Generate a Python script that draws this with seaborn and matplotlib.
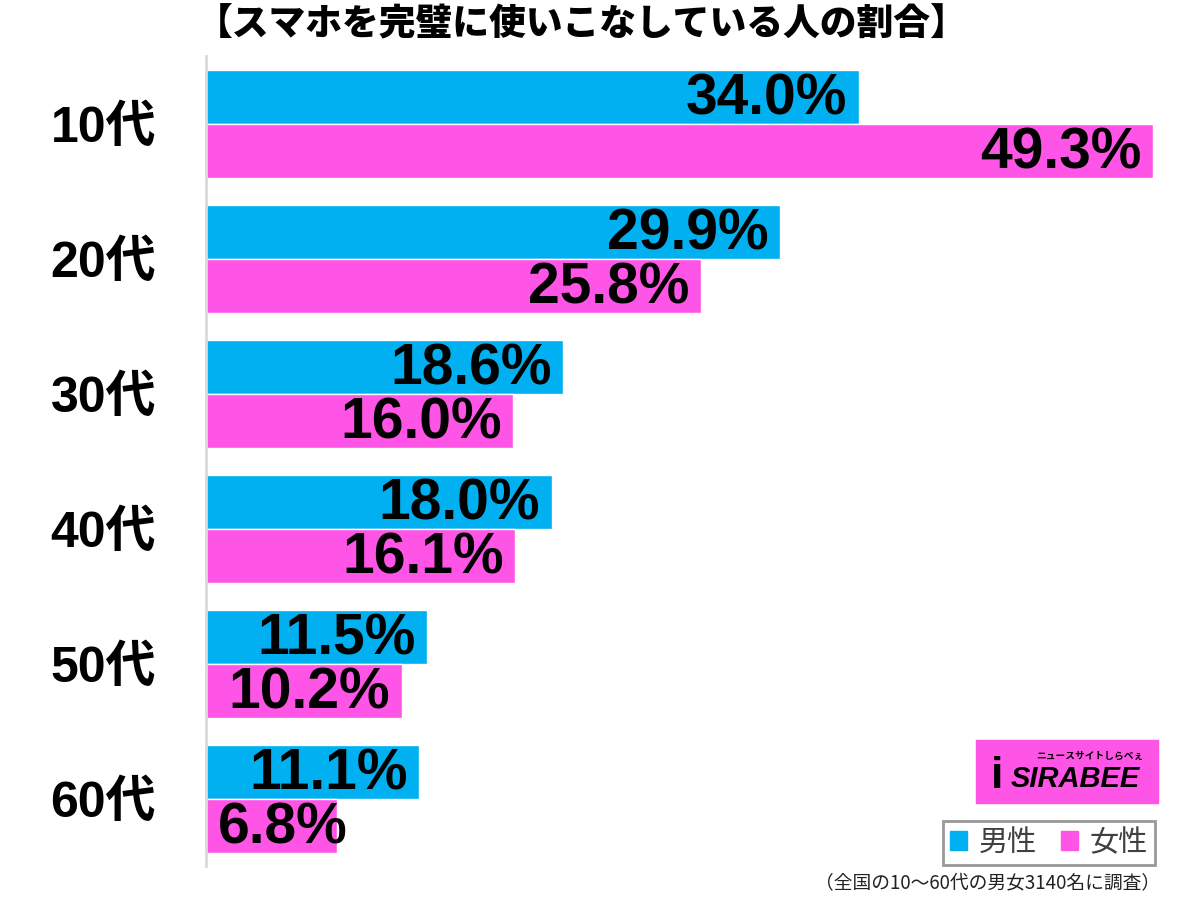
import pandas as pd
import matplotlib.pyplot as plt
import seaborn as sns
from matplotlib.patches import Rectangle

# Data
ages = ['10代', '20代', '30代', '40代', '50代', '60代']
male = [34.0, 29.9, 18.6, 18.0, 11.5, 11.1]
female = [49.3, 25.8, 16.0, 16.1, 10.2, 6.8]
genders = ['男性', '女性']
colors = ['#00B0F0', '#FF55E6']

title = '【スマホを完璧に使いこなしている人の割合】'
note = '（全国の10〜60代の男女3140名に調査）'

df = pd.DataFrame({
    'age': ages * 2,
    'gender': [genders[0]] * len(ages) + [genders[1]] * len(ages),
    'value': male + female,
})

sns.set_style('white')
plt.rcParams['font.family'] = ['Noto Sans CJK JP', 'DejaVu Sans']
num_font = ['Liberation Sans', 'Noto Sans CJK JP']

fig = plt.figure(figsize=(12, 8.97), dpi=100)
ax = fig.add_axes([206 / 1200, 1 - 866.5 / 897, 960 / 1200, 810 / 897])

sns.barplot(data=df, y='age', x='value', hue='gender', order=ages,
            hue_order=genders, palette=colors, width=0.8, saturation=1,
            orient='h', ax=ax, legend=False)

ax.set_xlim(0, 50)
ax.set_ylim(5.5, -0.5)
ax.set_xlabel('')
ax.set_ylabel('')
ax.set_xticks([])
for s in ['top', 'right', 'bottom']:
    ax.spines[s].set_visible(False)
ax.spines['left'].set_color('#d9d9d9')
ax.spines['left'].set_linewidth(2)
ax.tick_params(axis='y', length=0, pad=36)
for lab in ax.get_yticklabels():
    lab.set_fontsize(36)
    lab.set_fontweight('bold')
    lab.set_color('black')
    lab.set_family(num_font)

# value labels
for cont in ax.containers:
    for bar in cont:
        v = bar.get_width()
        yc = bar.get_y() + bar.get_height() / 2 + 0.02
        txt = f'{v:.1f}%'
        if v < 9:
            ax.text(0.6, yc, txt, ha='left', va='center', fontsize=41,
                    fontweight='bold', family=num_font, color='black')
        else:
            ax.text(v - 0.6, yc, txt, ha='right', va='center', fontsize=41,
                    fontweight='bold', family=num_font, color='black')

fig.text(0.485, 1 - 24 / 897, title, ha='center', va='center',
         fontsize=26.5, fontweight='heavy', color='black')

# logo box
fig.patches.append(Rectangle((976 / 1200, 1 - 803 / 897), 182 / 1200, 63 / 897,
                             transform=fig.transFigure, color='#FF55E6', zorder=3))
fig.text(1075 / 1200, 1 - 779 / 897, 'SIRABEE', ha='center', va='center',
         fontsize=21, fontweight='bold', style='italic',
         family=num_font, color='black', zorder=4)
fig.text(1090 / 1200, 1 - 756 / 897, 'ニュースサイトしらべぇ', ha='center', va='center',
         fontsize=7, fontweight='bold', color='black', zorder=4)
fig.text(997 / 1200, 1 - 776 / 897, 'i', ha='center', va='center',
         fontsize=32, fontweight='bold', family=num_font, color='black', zorder=4)

# legend
handles = [Rectangle((0, 0), 1, 1, color=c) for c in colors]
leg = fig.legend(handles, genders, loc='center', bbox_to_anchor=(1049 / 1200, 1 - 843 / 897),
                 ncol=2, fontsize=21, frameon=True, fancybox=False,
                 handlelength=0.6, handleheight=0.6, handletextpad=0.4,
                 columnspacing=0.8, borderpad=0.25, borderaxespad=0)
leg.get_frame().set_edgecolor('#808080')
leg.get_frame().set_linewidth(2)
for t in leg.get_texts():
    t.set_color('#404040')

fig.text(1160 / 1200, 1 - 884 / 897, note, ha='right', va='center', fontsize=13.5, color='#222222')

fig.savefig('out.png', dpi=100)
